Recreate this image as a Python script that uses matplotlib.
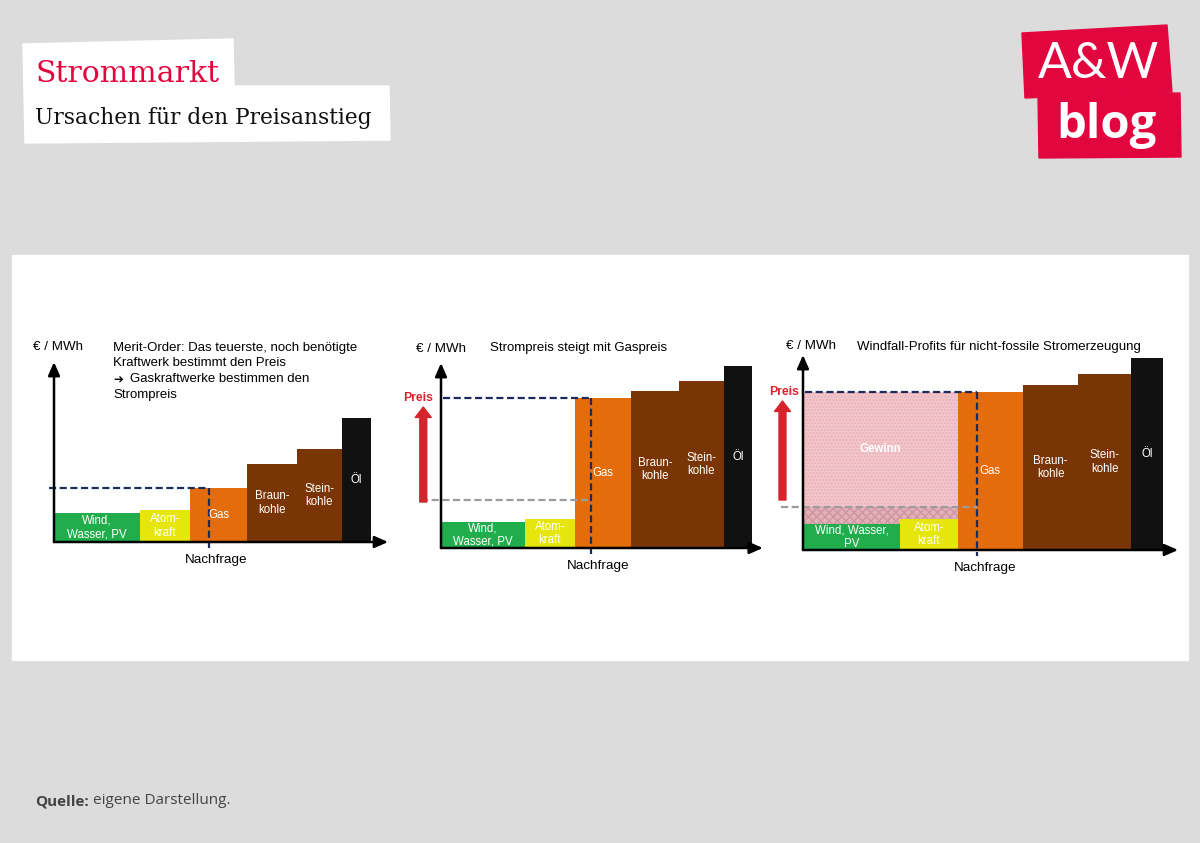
import numpy as np
import matplotlib
matplotlib.use('Agg')
from matplotlib import pyplot as plt
from matplotlib.patches import Polygon, Rectangle

plt.rcParams['font.family'] = ['Liberation Sans', 'DejaVu Sans']

# merit order: power plant types, capacity share (same in all panels)
techs = ['Wind,\nWasser, PV', 'Atom-\nkraft', 'Gas', 'Braun-\nkohle', 'Stein-\nkohle', 'Öl']
techs_p3 = ['Wind, Wasser,\nPV', 'Atom-\nkraft', 'Gas', 'Braun-\nkohle', 'Stein-\nkohle', 'Öl']
capacity = [27, 16, 18, 15.5, 14.5, 9]
tech_colors = ['#21ad4b', '#e6e60c', '#e46c0a', '#7a3506', '#7a3506', '#111111']

# price levels (relative units) per panel
prices_1 = [29, 32, 54, 78, 93, 124]
prices_2 = [26, 29, 150, 157, 167, 182]
prices_3 = [26, 31, 158, 165, 176, 192]
old_gas_price_2 = 48
old_gas_price_3 = 43
demand = [49, 48.2, 48.3]

title_1 = ['Merit-Order: Das teuerste, noch benötigte', 'Kraftwerk bestimmt den Preis',
           'Gaskraftwerke bestimmen den', 'Strompreis']
title_2 = 'Strompreis steigt mit Gaspreis'
title_3 = 'Windfall-Profits für nicht-fossile Stromerzeugung'

NAVY = '#1c2a5c'
GREY = '#9c9c9c'
RED = '#d7242c'
BRAND = '#e2063f'

fig = plt.figure(figsize=(12, 8.43), dpi=100)
fig.patch.set_facecolor('#dcdcdc')

# background layer in pixel coordinates
bg = fig.add_axes([0, 0, 1, 1])
bg.set_xlim(0, 1200)
bg.set_ylim(843, 0)
bg.axis('off')
bg.add_patch(Rectangle((12, 255), 1176, 405, color='white'))

# header
bg.add_patch(Polygon([(23, 44), (233, 39), (234, 86), (389, 86), (390, 140), (25, 143)],
                     closed=True, color='white'))
bg.text(35, 82, 'Strommarkt', family='DejaVu Serif', fontsize=21.5, color=BRAND, va='baseline')
bg.text(35, 124, 'Ursachen für den Preisanstieg', family='DejaVu Serif', fontsize=15.7,
        color='#111111', va='baseline')

# logo
bg.add_patch(Polygon([(1022, 33), (1167, 25), (1172, 92), (1025, 98)], closed=True, color=BRAND))
bg.add_patch(Polygon([(1038, 95), (1180, 93), (1181, 157), (1039, 158)], closed=True, color=BRAND))
bg.text(1098, 64, 'A&W', family='Lato', fontsize=36, color='white', ha='center', va='center')
bg.text(1106, 138, 'blog', family='Open Sans', fontweight='bold', fontsize=34, color='white',
        ha='center', va='baseline')

# footer
q = bg.text(35, 805, 'Quelle:', family='Open Sans', fontweight='bold', fontsize=11,
            color='#444444', va='baseline')
bg.annotate(' eigene Darstellung.', xy=(1, 0), xycoords=q, family='Open Sans', fontsize=11,
            color='#444444', va='bottom')

# panel titles and y labels
tsize = 9.5
for i, (line, y) in enumerate(zip(title_1, [348, 363.5, 379, 395])):
    bg.text(130 if i == 2 else 113, y, line, fontsize=tsize, va='center')
bg.text(113, 379, '➔', family='DejaVu Sans', fontsize=8.5, va='center')
bg.text(490, 348, title_2, fontsize=tsize, va='center')
bg.text(857, 347, title_3, fontsize=tsize, va='center')
for x, y in [(33, 347), (416, 349), (786, 346)]:
    bg.text(x, y, '€ / MWh', fontsize=9.6, va='center')

dash = dict(lw=1.6, linestyle=(0, (3.2, 1.6)), zorder=5)


def panel(x0, y0, sx, prices, labels, dem, ytop, xlen, hstart, old=None, gstart=None,
          arrow_base=None, gewinn=False, preis_right=None):
    ax = fig.add_axes([0, 0, 1, 1])
    lefts = np.concatenate([[0], np.cumsum(capacity)[:-1]])
    ax.bar(lefts, prices, width=capacity, align='edge', color=tech_colors, lw=0, zorder=2)
    for l, w, p, lab in zip(lefts, capacity, prices, labels):
        ax.text(l + w / 2, p / 2, lab, ha='center', va='center', color='white',
                fontsize=8.3, linespacing=1.2, zorder=6)
    gas = prices[2]
    if gewinn:
        ax.bar(0, gas - old, bottom=old, width=capacity[0] + capacity[1], align='edge',
               facecolor='#f3c6cb', edgecolor='#e8b0b6', hatch='.....', lw=0, zorder=2)
        ax.bar(lefts[:2], [old - p for p in prices[:2]], bottom=prices[:2], width=capacity[:2],
               align='edge', facecolor='#e2b0b8', edgecolor='#cf95a0', hatch='xxxx', lw=0, zorder=2)
        ax.text((capacity[0] + capacity[1]) / 2, (gas + old) / 2, 'Gewinn', ha='center',
                va='center', color='white', fontsize=8.3, fontweight='bold', zorder=6)
    if old is not None:
        ax.plot([gstart, dem], [old, old], color=GREY, **dash)
        ax.annotate('', xy=(-5.7, gas - 9), xytext=(-5.7, arrow_base),
                    arrowprops=dict(arrowstyle='simple,head_length=0.75,head_width=1.15,tail_width=0.5',
                                    color=RED, shrinkA=0, shrinkB=0, mutation_scale=10), zorder=6)
        ax.text(preis_right, gas, 'Preis', ha='right', va='center', color=RED,
                fontsize=8.8, fontweight='bold')
    ax.plot([hstart, dem], [gas, gas], color=NAVY, **dash)
    ax.plot([dem, dem], [gas, -6], color=NAVY, **dash)
    ax.text(dem + 2.3, -18, 'Nachfrage', ha='center', va='center', fontsize=9.7)
    arrow = dict(arrowstyle='-|>,head_length=0.8,head_width=0.35', lw=1.8, color='black',
                 shrinkA=0, shrinkB=0, mutation_scale=10)
    ax.annotate('', xy=(0, ytop), xytext=(0, 0), arrowprops=arrow, zorder=7)
    ax.annotate('', xy=(xlen, 0), xytext=(0, 0), arrowprops=arrow, zorder=7)
    ax.set_xlim(-x0 / sx, (1200 - x0) / sx)
    ax.set_ylim(y0 - 843, y0)
    ax.axis('off')


panel(54, 542, 3.17, prices_1, techs, demand[0], 180, 105.4, -1.6)
panel(441, 548, 3.11, prices_2, techs, demand[1], 185, 103.5, 0.5,
      old=old_gas_price_2, gstart=-6.4, arrow_base=46, preis_right=-2.6)
panel(803, 550, 3.6, prices_3, techs_p3, demand[2], 195, 104.2, 0.5,
      old=old_gas_price_3, gstart=-6.0, arrow_base=50, gewinn=True, preis_right=-1.1)

fig.savefig('out.png', dpi=100, facecolor=fig.get_facecolor())
